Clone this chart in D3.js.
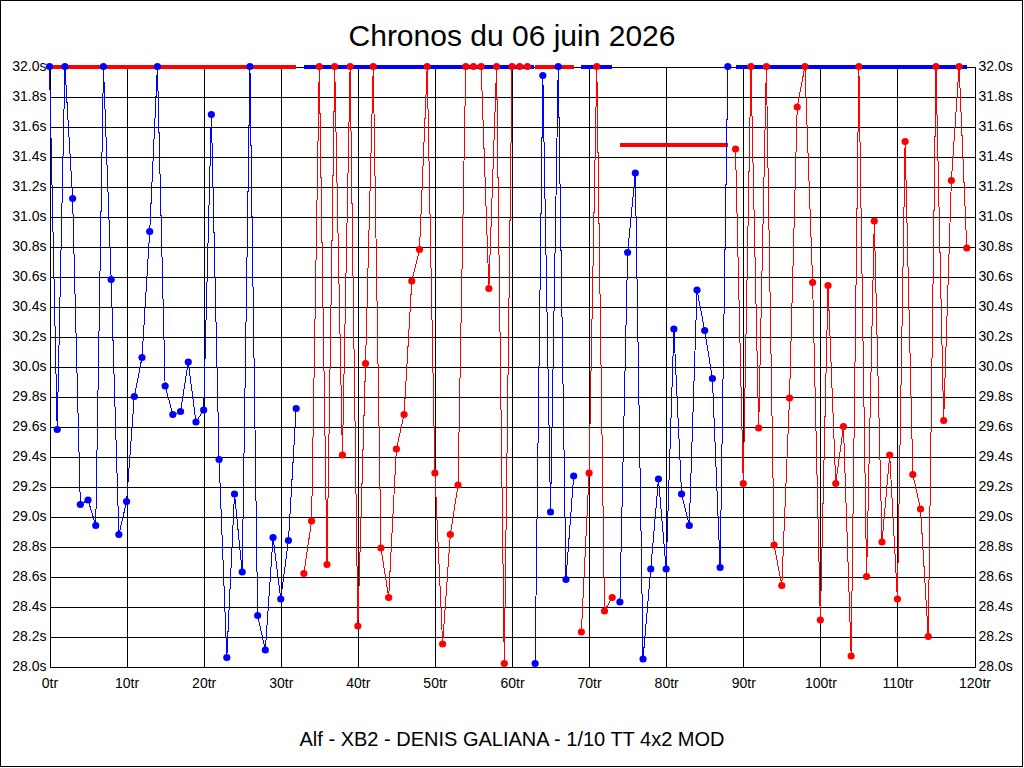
<!DOCTYPE html>
<html>
<head>
<meta charset="utf-8">
<script src="https://cdn.jsdelivr.net/npm/d3@7"></script>
<style>
  html, body { margin: 0; padding: 0; background: #fff; }
  svg { display: block; font-family: "Liberation Sans", Arial, sans-serif; }
  .tick text { font-size: 14px; fill: #000; }
</style>
</head>
<body>
<svg id="chart" width="1024" height="768"></svg>
<script>
const title = 'Chronos du 06 juin 2026';
const footer = 'Alf - XB2 - DENIS GALIANA - 1/10 TT 4x2 MOD';

// tick values
const xTicks = [0, 10, 20, 30, 40, 50, 60, 70, 80, 90, 100, 110, 120];
const yTicks = [28.0, 28.2, 28.4, 28.6, 28.8, 29.0, 29.2, 29.4, 29.6, 29.8, 30.0,
  30.2, 30.4, 30.6, 30.8, 31.0, 31.2, 31.4, 31.6, 31.8, 32.0];

// lap times per stint (32.0 = off the top of the chart)
const stintStart = [0, 33, 63, 69, 74, 89];
const stintColor = ['#0000ff', '#ff0000', '#0000ff', '#ff0000', '#0000ff', '#ff0000'];
const stint1 = [32.0, 29.58, 32.0, 31.12, 29.08, 29.11, 28.94, 32.0, 30.58, 28.88, 29.10,
  29.80, 30.06, 30.90, 32.0, 29.87, 29.68, 29.70, 30.03, 29.63, 29.71, 31.68, 29.38, 28.06,
  29.15, 28.63, 32.0, 28.34, 28.11, 28.86, 28.45, 28.84, 29.72];
const stint2 = [28.62, 28.97, 32.0, 28.68, 32.0, 29.41, 32.0, 28.27, 30.02, 32.0, 28.79,
  28.46, 29.45, 29.68, 30.57, 30.78, 32.0, 29.29, 28.15, 28.88, 29.21, 32.0, 32.0, 32.0,
  30.52, 32.0, 28.02, 32.0, 32.0, 32.0];
const stint3 = [28.02, 31.94, 29.03, 32.0, 28.58, 29.27];
const stint4 = [28.23, 29.29, 32.0, 28.37, 28.46];
const stint5 = [28.43, 30.76, 31.29, 28.05, 28.65, 29.25, 28.65, 30.25, 29.15, 28.94,
  30.51, 30.24, 29.92, 28.66, 32.0];
const stint6 = [31.45, 29.22, 32.0, 29.59, 32.0, 28.81, 28.54, 29.79, 31.73, 32.0, 30.56,
  28.31, 30.54, 29.22, 29.60, 28.07, 32.0, 28.60, 30.97, 28.83, 29.41, 28.45, 31.50, 29.28,
  29.05, 28.20, 32.0, 29.64, 31.24, 32.0, 30.79];
const stints = [stint1, stint2, stint3, stint4, stint5, stint6];

// thick reference bars: from lap, to lap, value, colour
const barFrom = [0, 33, 63, 69, 74, 89];
const barTo = [32, 62.9, 68, 73, 88, 119];
const barValue = [32.0, 32.0, 32.0, 32.0, 31.48, 32.0];
const barColor = ['#ff0000', '#0000ff', '#ff0000', '#0000ff', '#ff0000', '#0000ff'];

const svg = d3.select('#chart');
const W = 1024, H = 768;
const m = { left: 49.5, right: 974.5, top: 66.5, bottom: 666.5 };

svg.append('rect').attr('x', 0.5).attr('y', 0.5).attr('width', W - 2).attr('height', H - 2)
  .attr('fill', '#fff').attr('stroke', '#000');

const x = d3.scaleLinear([0, 120], [m.left, m.right]);
const y = d3.scaleLinear([28, 32], [m.bottom, m.top]);
const fmtY = (d) => d.toFixed(1) + 's';

// axes + grid
const gl = svg.append('g').attr('transform', `translate(${m.left},0)`)
  .call(d3.axisLeft(y).tickValues(yTicks).tickFormat(fmtY).tickSize(-(m.right - m.left)).tickPadding(3));
const gr = svg.append('g').attr('transform', `translate(${m.right},0)`)
  .call(d3.axisRight(y).tickValues(yTicks).tickFormat(fmtY).tickSize(0).tickPadding(4));
const gb = svg.append('g').attr('transform', `translate(0,${m.bottom})`)
  .call(d3.axisBottom(x).tickValues(xTicks).tickFormat((d) => d + 'tr').tickSize(-(m.bottom - m.top)).tickPadding(12));
[gl, gr, gb].forEach((g) => {
  g.select('.domain').attr('stroke', '#000').attr('shape-rendering', 'crispEdges');
  g.selectAll('.tick line').attr('stroke', '#000').attr('shape-rendering', 'crispEdges');
  g.selectAll('.tick text').style('font-size', '14px').attr('fill', '#000');
});
gr.select('.domain').remove();

// thick bars
svg.append('g').selectAll('line').data(barFrom.map((f, i) => ({ f, t: barTo[i], v: barValue[i], c: barColor[i] })))
  .join('line')
  .attr('x1', (d) => x(d.f)).attr('x2', (d) => x(d.t))
  .attr('y1', (d) => y(d.v)).attr('y2', (d) => y(d.v))
  .attr('stroke', (d) => d.c).attr('stroke-width', 4).attr('shape-rendering', 'crispEdges');

// lap time lines + dots
const line = d3.line().x((d) => x(d.lap)).y((d) => y(Math.min(d.v, 32)));
stints.forEach((vals, i) => {
  const pts = vals.map((v, k) => ({ lap: stintStart[i] + k, v }));
  const g = svg.append('g');
  g.append('path').datum(pts).attr('d', line)
    .attr('fill', 'none').attr('stroke', stintColor[i]).attr('stroke-width', 1)
    .attr('shape-rendering', 'crispEdges');
  g.selectAll('circle').data(pts).join('circle')
    .attr('cx', (d) => x(d.lap)).attr('cy', (d) => y(Math.min(d.v, 32)))
    .attr('r', 3.6).attr('fill', stintColor[i]);
});

svg.append('text').attr('x', W / 2).attr('y', 46).attr('text-anchor', 'middle')
  .style('font-size', '30px').attr('fill', '#000').text(title);
svg.append('text').attr('x', W / 2).attr('y', 746).attr('text-anchor', 'middle')
  .style('font-size', '20px').attr('fill', '#000').text(footer);
</script>
</body>
</html>
